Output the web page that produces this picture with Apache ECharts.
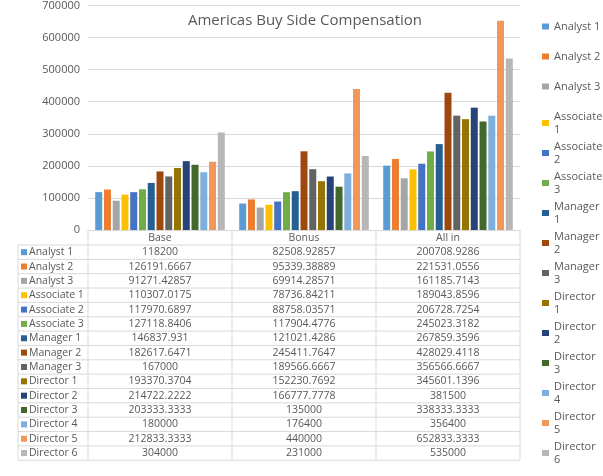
<!DOCTYPE html>
<html><head><meta charset="utf-8">
<script src="https://cdn.jsdelivr.net/npm/echarts@6/dist/echarts.min.js"></script>
<style>html,body{margin:0;padding:0;background:#fff}#c{width:603px;height:476px}</style>
</head><body><div id="c"></div>
<script>
const categories = ['Base', 'Bonus', 'All in'];
const seriesNames = ['Analyst 1','Analyst 2','Analyst 3','Associate 1','Associate 2','Associate 3','Manager 1','Manager 2','Manager 3','Director 1','Director 2','Director 3','Director 4','Director 5','Director 6'];
const baseValues = ['118200','126191.6667','91271.42857','110307.0175','117970.6897','127118.8406','146837.931','182617.6471','167000','193370.3704','214722.2222','203333.3333','180000','212833.3333','304000'];
const bonusValues = ['82508.92857','95339.38889','69914.28571','78736.84211','88758.03571','117904.4776','121021.4286','245411.7647','189566.6667','152230.7692','166777.7778','135000','176400','440000','231000'];
const allInValues = ['200708.9286','221531.0556','161185.7143','189043.8596','206728.7254','245023.3182','267859.3596','428029.4118','356566.6667','345601.1396','381500','338333.3333','356400','652833.3333','535000'];
const yTicks = [0,100000,200000,300000,400000,500000,600000,700000];
const colors = ['#5B9BD5','#ED7D31','#A5A5A5','#FFC000','#4472C4','#70AD47','#255E91','#9E480E','#636363','#997300','#264478','#43682B','#7CAFDD','#F1975A','#B7B7B7'];

const txt = '#595959', line = '#D9D9D9';
const gL = 88, gR = 520, colW = (gR - gL) / 3;
const rowTop = 245, rowH = 14.35;
const font = '10.5px "Open Sans"';
const graphic = [];
categories.forEach((c, j) => graphic.push({type:'text', x: gL + colW*j + colW/2, y: 238, style:{text:c, fill:txt, font:font, align:'center', verticalAlign:'middle'}}));
[18, gL, gL+colW, gL+2*colW, gR].forEach((x,i) => graphic.push({type:'line', shape:{x1:x, y1: i===0?rowTop:230, x2:x, y2: rowTop + rowH*15}, style:{stroke:line, lineWidth:1}}));
for (let k = 0; k <= 15; k++) graphic.push({type:'line', shape:{x1:18, y1:rowTop + rowH*k, x2:gR, y2:rowTop + rowH*k}, style:{stroke:line, lineWidth:1}});
seriesNames.forEach((n, i) => {
  const cy = rowTop + rowH*i + rowH/2;
  graphic.push({type:'rect', shape:{x:21, y:cy-3, width:6, height:6}, style:{fill:colors[i]}});
  graphic.push({type:'text', x:29, y:cy, style:{text:n, fill:txt, font:font, verticalAlign:'middle'}});
  [baseValues[i], bonusValues[i], allInValues[i]].forEach((v, j) => graphic.push({type:'text', x: gL + colW*j + colW/2, y: cy, style:{text:v, fill:txt, font:font, align:'center', verticalAlign:'middle'}}));
});

const legends = seriesNames.map((n, i) => ({
  data:[n], left: 537, top: (n.startsWith('Analyst') ? 15 : 15) + i*30, orient:'vertical', itemWidth:7, itemHeight:6, itemGap:0, icon:'rect',
  textStyle:{color:txt, fontSize:11, fontFamily:'Open Sans', lineHeight:13},
  formatter: s => s.startsWith('Analyst') ? s : s.replace(' ', '\n')
}));

const chart = echarts.init(document.getElementById('c'));
chart.setOption({
  animation:false,
  color: colors,
  title:{text:'Americas Buy Side Compensation', left:300, top:8, textAlign:'center', textStyle:{color:txt, fontSize:15, fontWeight:'normal', fontFamily:'Open Sans'}},
  legend: legends,
  grid:{left:gL, right:603-gR, top:5, bottom:476-230},
  xAxis:{type:'category', data:categories, axisLabel:{show:false}, axisTick:{show:false}, axisLine:{lineStyle:{color:line}}},
  yAxis:{type:'value', min:yTicks[0], max:yTicks[yTicks.length-1], interval:100000, axisLabel:{color:txt, fontSize:11, fontFamily:'Open Sans', formatter: v => String(v)}, splitLine:{lineStyle:{color:line}}, axisLine:{show:false}, axisTick:{show:false}},
  series: seriesNames.map((n, i) => ({name:n, type:'bar', data:[+baseValues[i], +bonusValues[i], +allInValues[i]], barGap:'25%', barCategoryGap:'10%'})),
  graphic: graphic
});
</script></body></html>
